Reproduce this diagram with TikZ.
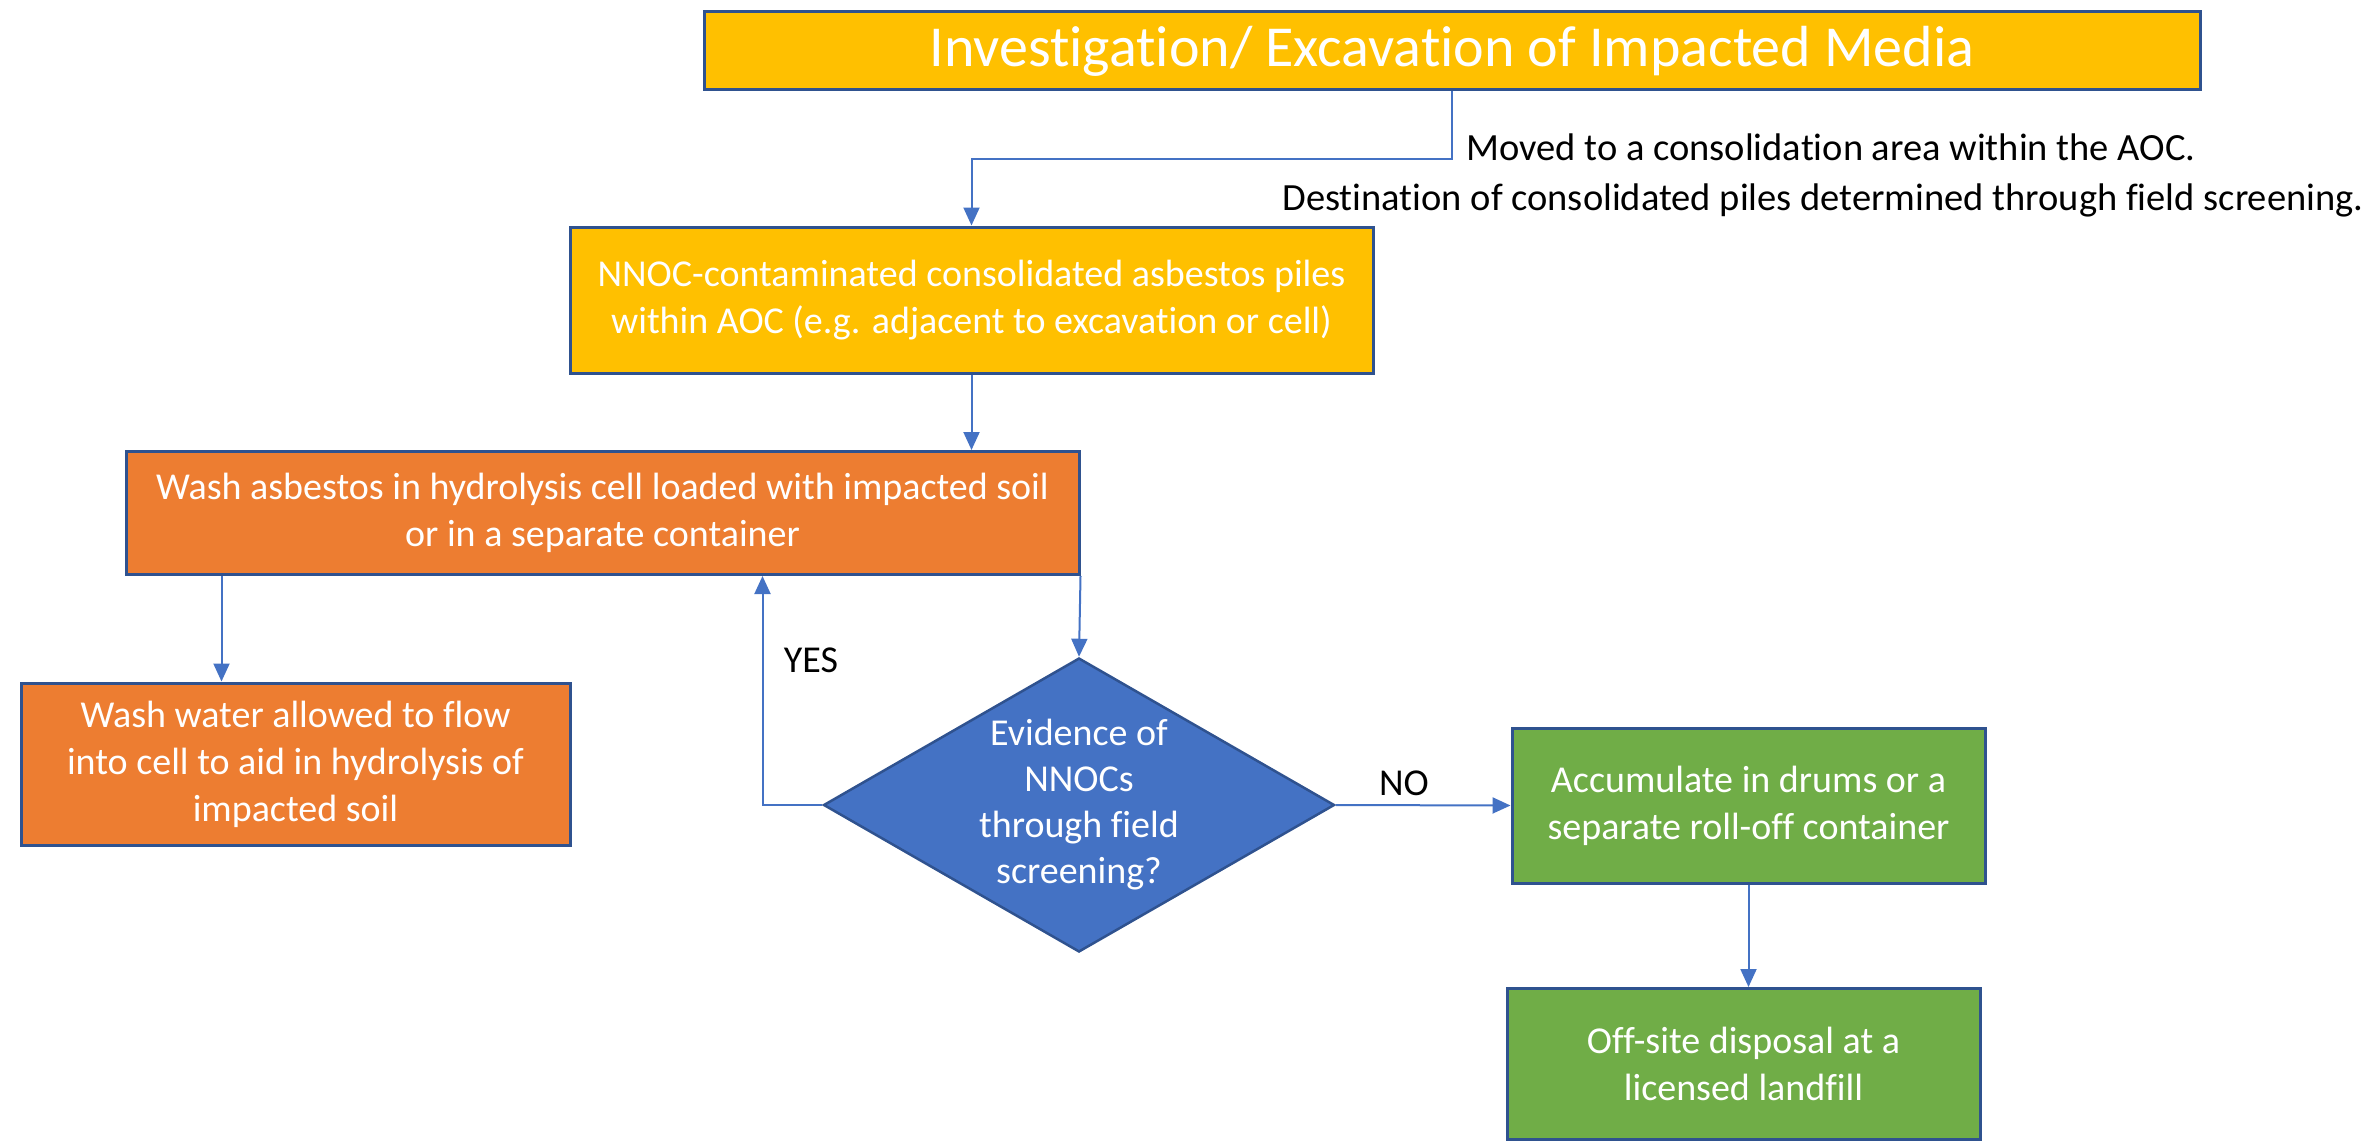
\documentclass[tikz,border=0pt]{standalone}
\usepackage{fontspec}
\setmainfont{Carlito}[Ligatures=NoCommon]
\usetikzlibrary{arrows.meta,shapes.geometric,calc}
\definecolor{gold}{HTML}{FFC000}
\definecolor{orng}{HTML}{ED7D31}
\definecolor{blu}{HTML}{4472C4}
\definecolor{grn}{HTML}{70AD47}
\definecolor{edge}{HTML}{2F528F}
\tikzset{
  box/.style={draw=edge, line width=3pt, inner sep=0pt, text=white, align=center,
    font=\fontsize{38}{47}\selectfont},
  decision/.style={diamond, draw=edge, line width=2.5pt, fill=blu, inner sep=0pt,
    minimum width=511pt, minimum height=294pt},
  wtext/.style={text=white, align=center, font=\fontsize{38}{46}\selectfont},
  note/.style={text=black, align=center, font=\fontsize{38.5}{50}\selectfont},
  arr/.style={draw=blu, line width=2pt, -{Triangle[width=16pt,length=18pt]}}
}
\begin{document}
\begin{tikzpicture}[x=1pt,y=-1pt]
\useasboundingbox (0,0) rectangle (2373,1142);

% process boxes
\node[box, fill=gold, minimum width=1496pt, minimum height=78pt,
  font=\fontsize{58}{68}\selectfont] (top) at (1452,51)
  {Investigation/ Excavation of Impacted Media};
\node[box, fill=gold, minimum width=803pt, minimum height=146pt] (nnoc) at (971.5,300)
  {NNOC-contaminated consolidated asbestos piles\\within AOC (e.g. adjacent to excavation or cell)};
\node[box, fill=orng, minimum width=953pt, minimum height=123pt] (wash) at (602.5,513)
  {Wash asbestos in hydrolysis cell loaded with impacted soil\\or in a separate container};
\node[box, fill=orng, minimum width=549pt, minimum height=162pt] (water) at (295.5,764)
  {Wash water allowed to flow\\into cell to aid in hydrolysis of\\impacted soil};
\node[decision, label={[wtext]center:Evidence of\\NNOCs\\through field\\screening?}] (dec) at (1079,805) {};
\node[box, fill=grn, minimum width=473pt, minimum height=155pt] (acc) at (1748.5,805.5)
  {Accumulate in drums or a\\separate roll-off container};
\node[box, fill=grn, minimum width=473pt, minimum height=151pt] (off) at (1743.5,1064)
  {Off-site disposal at a\\licensed landfill};

% free text
\node[note] (move) at (1823,175)
  {\hspace*{16pt}Moved to a consolidation area within the AOC.\\Destination of consolidated piles determined through field screening.};
\node[note, font=\fontsize{38}{44}\selectfont] (yes) at (811,660) {YES};
\node[note, font=\fontsize{38}{44}\selectfont] (no) at (1404,783) {NO};

% connectors
\draw[arr] (top.south) -- ++(0,68) -| (nnoc.north);
\draw[arr] (nnoc.south) -- (nnoc.south |- wash.north);
\draw[arr] ([xshift=97pt]wash.south west) -- ([xshift=97pt]wash.south west |- water.north);
\draw[arr] (wash.south east) -- (dec.north);
\draw[arr] (dec.west) -| ([xshift=638pt]wash.south west);
\draw[arr] (dec.east) -- (acc.west);
\draw[arr] (acc.south) -- (acc.south |- off.north);
\end{tikzpicture}
\end{document}
